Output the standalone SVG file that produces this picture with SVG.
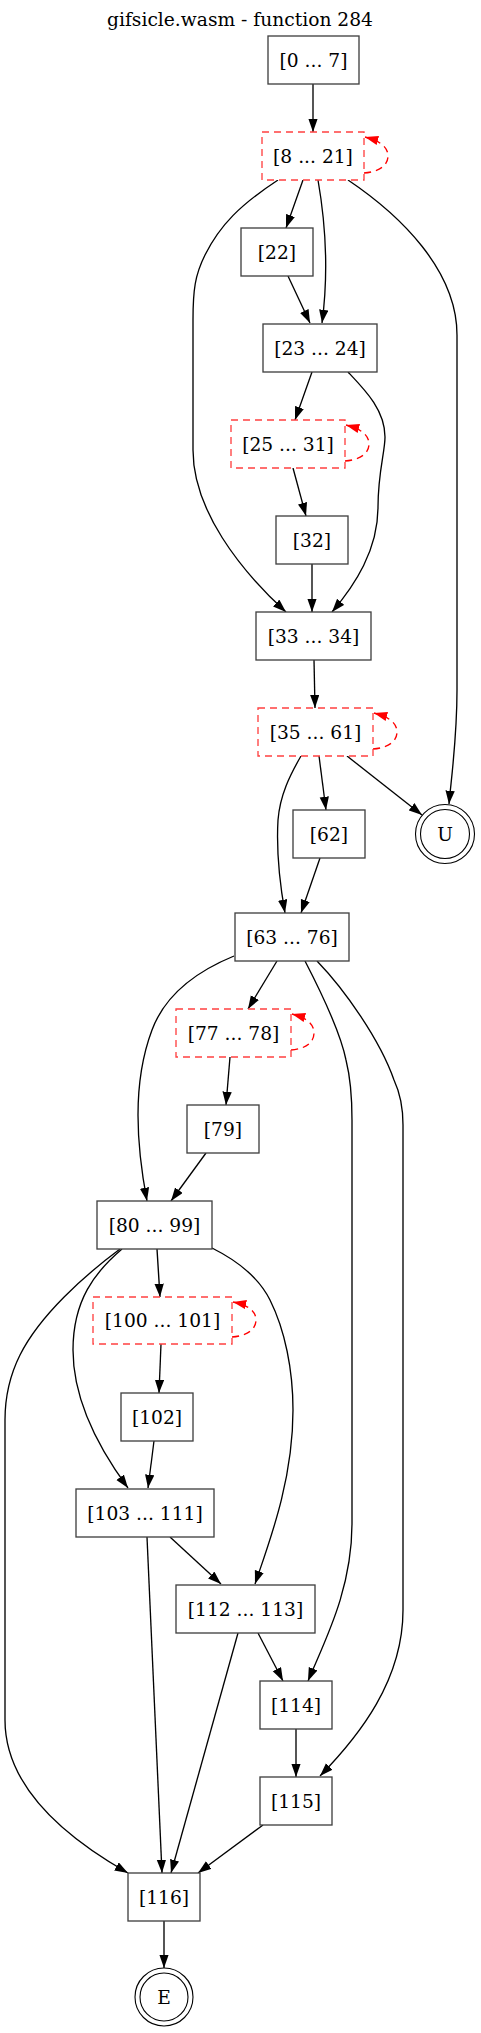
<svg xmlns="http://www.w3.org/2000/svg" width="481" height="2033" viewBox="0 0 481 2033">
<style>
text{font-family:"DejaVu Serif","Liberation Serif",serif;font-size:18.67px;fill:#000;text-anchor:middle}
.b{fill:#fff;stroke:#404040;stroke-width:1.33}
.d{fill:#fff;stroke:#ff4040;stroke-width:1.33;stroke-dasharray:7,5}
.c{fill:none;stroke:#000;stroke-width:1.1}
.e{fill:none;stroke:#000;stroke-width:1.33;marker-end:url(#a)}
.l{fill:none;stroke:#ff0000;stroke-width:1.33;stroke-dasharray:7,5;marker-end:url(#r)}
</style>
<defs>
<marker id="a" markerUnits="userSpaceOnUse" markerWidth="14" markerHeight="10" refX="13.3" refY="4.67" orient="auto"><path d="M0,0 L13.3,4.67 L0,9.33 z" fill="#000"/></marker>
<marker id="r" markerUnits="userSpaceOnUse" markerWidth="14" markerHeight="10" refX="13.3" refY="4.67" orient="auto"><path d="M0,0 L13.3,4.67 L0,9.33 z" fill="#ff0000"/></marker>
</defs>
<rect width="481" height="2033" fill="#fff"/>
<text x="240" y="26">gifsicle.wasm - function 284</text>
<g id="edges">
<path class="e" d="M313,84 L313,132"/>
<path class="l" d="M364,173 C378,172 388,166 388,156 C388,147 380,141 365,137"/>
<path class="e" d="M303,180 L286,228"/>
<path class="e" d="M318,180 C325,220 329,270 322,323"/>
<path class="e" d="M288,276 L310,323"/>
<path class="e" d="M278,180 C240,205 220,225 205,255 C195,275 193,290 193,320 L193,450 C193,510 240,570 286,612"/>
<path class="e" d="M348,180 C400,215 457,270 457,335 L457,690 C457,740 451,780 449,804"/>
<path class="e" d="M312,372 L295,420"/>
<path class="e" d="M348,372 C365,390 385,410 385,437 C385,452 378,472 378,507 C378,550 355,585 332,612"/>
<path class="l" d="M345,461 C359,460 369,454 369,444 C369,435 361,429 346,425"/>
<path class="e" d="M293,468 L306,516"/>
<path class="e" d="M312,564 L312,612"/>
<path class="e" d="M314,660 L315,708"/>
<path class="l" d="M373,749 C387,748 397,742 397,732 C397,723 389,717 374,713"/>
<path class="e" d="M347,756 L422,815"/>
<path class="e" d="M319,756 L326,810"/>
<path class="e" d="M301,756 C290,775 280,795 278,820 C276,855 280,885 285,913"/>
<path class="e" d="M320,858 L301,913"/>
<path class="e" d="M234,956 C195,972 165,995 152,1030 C140,1062 138,1090 138,1115 C138,1150 143,1180 147,1201"/>
<path class="e" d="M277,961 L248,1009"/>
<path class="e" d="M305,961 C320,990 340,1030 346,1060 C351,1080 352,1100 352,1120 L352,1523 C352,1590 325,1640 308,1681"/>
<path class="e" d="M317,961 C345,990 380,1040 394,1080 C401,1095 403,1110 403,1125 L403,1610 C403,1680 360,1735 320,1776"/>
<path class="l" d="M291,1050 C305,1049 314,1043 314,1033 C314,1024 307,1018 292,1014"/>
<path class="e" d="M230,1057 L226,1105"/>
<path class="e" d="M206,1153 L171,1201"/>
<path class="e" d="M157,1249 L160,1297"/>
<path class="l" d="M232,1337 C246,1336 256,1330 256,1320 C256,1311 248,1305 233,1302"/>
<path class="e" d="M120,1249 C85,1275 40,1315 20,1355 C10,1375 5,1395 5,1420 L5,1720 C5,1790 70,1840 128,1873"/>
<path class="e" d="M122,1249 C95,1272 73,1300 73,1350 C73,1400 100,1450 128,1488"/>
<path class="e" d="M212,1248 C240,1262 260,1280 270,1300 C285,1330 293,1370 293,1410 C293,1480 270,1540 255,1584"/>
<path class="e" d="M161,1344 L159,1393"/>
<path class="e" d="M154,1441 L148,1488"/>
<path class="e" d="M170,1537 L221,1584"/>
<path class="e" d="M147,1537 L162,1873"/>
<path class="e" d="M258,1633 L283,1681"/>
<path class="e" d="M238,1633 L171,1873"/>
<path class="e" d="M296,1729 L296,1777"/>
<path class="e" d="M263,1825 L198,1873"/>
<path class="e" d="M164,1921 L164,1968"/>
</g>
<g id="n0"><rect class="b" x="268" y="36" width="91" height="48"/><text x="313.5" y="66.5">[0 ... 7]</text></g>
<g id="n8"><rect class="d" x="262" y="132" width="102" height="48"/><text x="313" y="162.5">[8 ... 21]</text></g>
<g id="n22"><rect class="b" x="241" y="228" width="72" height="48"/><text x="277" y="258.5">[22]</text></g>
<g id="n23"><rect class="b" x="263" y="324" width="114" height="48"/><text x="320" y="354.5">[23 ... 24]</text></g>
<g id="n25"><rect class="d" x="231" y="420" width="114" height="48"/><text x="288" y="450.5">[25 ... 31]</text></g>
<g id="n32"><rect class="b" x="276" y="516" width="72" height="48"/><text x="312" y="546.5">[32]</text></g>
<g id="n33"><rect class="b" x="256" y="612" width="115" height="48"/><text x="313.5" y="642.5">[33 ... 34]</text></g>
<g id="n35"><rect class="d" x="258" y="708" width="115" height="48"/><text x="315.5" y="738.5">[35 ... 61]</text></g>
<g id="n62"><rect class="b" x="293" y="810" width="72" height="48"/><text x="329" y="840.5">[62]</text></g>
<g id="nU"><circle class="c" cx="445" cy="834" r="24.5"/><circle class="c" cx="445" cy="834" r="29.5"/><text x="445" y="840.5">U</text></g>
<g id="n63"><rect class="b" x="235" y="913" width="114" height="48"/><text x="292" y="943.5">[63 ... 76]</text></g>
<g id="n77"><rect class="d" x="176" y="1009" width="115" height="48"/><text x="233.5" y="1039.5">[77 ... 78]</text></g>
<g id="n79"><rect class="b" x="187" y="1105" width="72" height="48"/><text x="223" y="1135.5">[79]</text></g>
<g id="n80"><rect class="b" x="97" y="1201" width="115" height="48"/><text x="154.5" y="1231.5">[80 ... 99]</text></g>
<g id="n100"><rect class="d" x="93" y="1297" width="139" height="47"/><text x="162.5" y="1327">[100 ... 101]</text></g>
<g id="n102"><rect class="b" x="121" y="1393" width="72" height="48"/><text x="157" y="1423.5">[102]</text></g>
<g id="n103"><rect class="b" x="76" y="1489" width="138" height="48"/><text x="145" y="1519.5">[103 ... 111]</text></g>
<g id="n112"><rect class="b" x="176" y="1585" width="139" height="48"/><text x="245.5" y="1615.5">[112 ... 113]</text></g>
<g id="n114"><rect class="b" x="260" y="1681" width="72" height="48"/><text x="296" y="1711.5">[114]</text></g>
<g id="n115"><rect class="b" x="260" y="1777" width="72" height="48"/><text x="296" y="1807.5">[115]</text></g>
<g id="n116"><rect class="b" x="128" y="1873" width="72" height="48"/><text x="164" y="1903.5">[116]</text></g>
<g id="nE"><circle class="c" cx="164" cy="1997" r="24"/><circle class="c" cx="164" cy="1997" r="29"/><text x="164" y="2003.5">E</text></g>
</svg>
